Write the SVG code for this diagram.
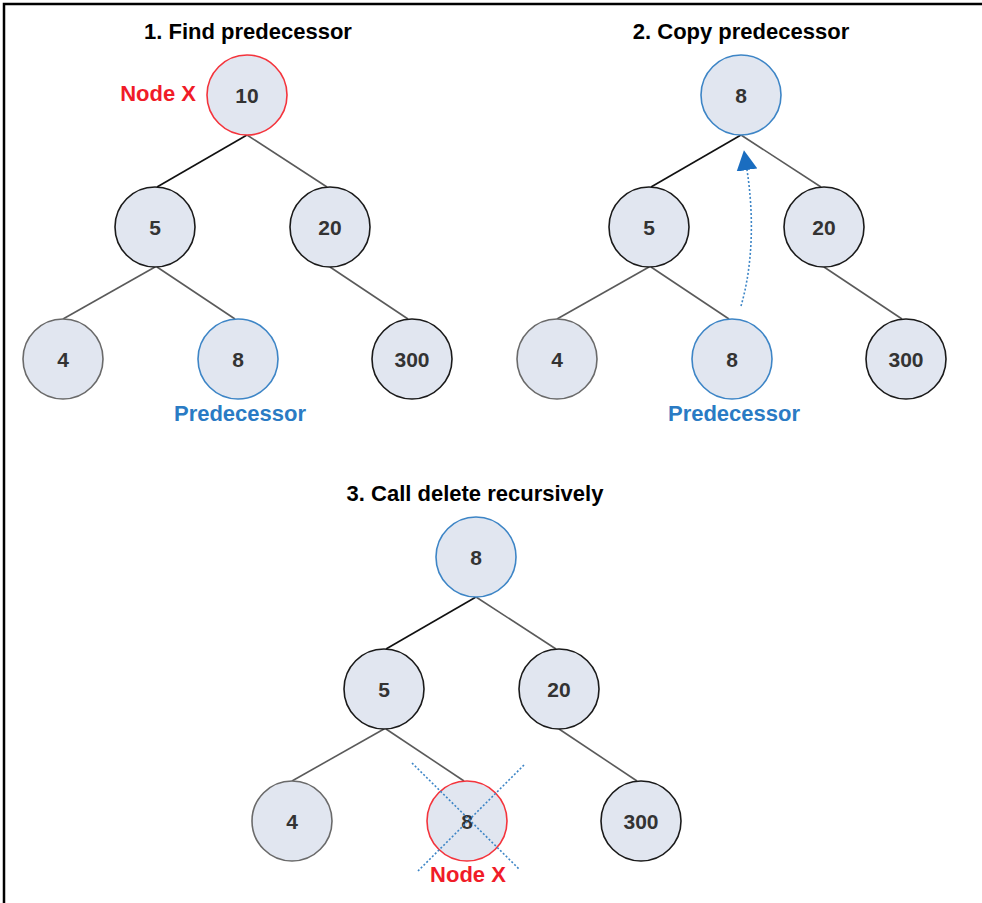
<svg xmlns="http://www.w3.org/2000/svg" width="982" height="903" viewBox="0 0 982 903">
<defs>
<style>
.bg{fill:#ffffff}
.frame{stroke:#000;stroke-width:2.5;fill:none}
.title{font-family:"Liberation Sans",Arial,sans-serif;font-weight:bold;font-size:22px;fill:#000;text-anchor:middle}
.num{font-family:"Liberation Sans",Arial,sans-serif;font-weight:bold;font-size:21px;fill:#333;text-anchor:middle}
.lblred{font-family:"Liberation Sans",Arial,sans-serif;font-weight:bold;font-size:22px;fill:#f01c28}
.lblblue{font-family:"Liberation Sans",Arial,sans-serif;font-weight:bold;font-size:22px;fill:#2a7bc4;text-anchor:middle}
circle{fill:#e1e6f0;stroke-width:1.6}
.k{stroke:#1a1a1a}
.g{stroke:#6a6a6a}
.b{stroke:#3d85c6}
.r{stroke:#f4343c}
.edge{stroke:#5a5a5a;stroke-width:1.6;fill:none}
.edgek{stroke:#111;stroke-width:1.6;fill:none}
.dot{stroke:#3d85c6;stroke-width:1.6;stroke-dasharray:2 2;fill:none}
</style>
<marker id="ah" viewBox="0 0 20 21" markerWidth="20" markerHeight="21" refX="0" refY="10.5" orient="auto" markerUnits="userSpaceOnUse">
<path d="M0,0 L20,10.5 L0,21 Z" fill="#1a6dc0"/>
</marker>
</defs>
<rect class="bg" x="0" y="0" width="982" height="903"/>
<path class="frame" d="M4,903 V4 H982"/>

<text class="title" x="248" y="39">1. Find predecessor</text>
<text class="title" x="741" y="39">2. Copy predecessor</text>
<text class="title" x="475" y="501">3. Call delete recursively</text>

<g id="connectors">
<line class="edgek" x1="247" y1="135" x2="157" y2="187"/>
<line class="edge" x1="247" y1="135" x2="327" y2="187"/>
<line class="edge" x1="155" y1="267" x2="63" y2="319"/>
<line class="edge" x1="157" y1="267" x2="235" y2="319"/>
<line class="edge" x1="330" y1="267" x2="408" y2="319"/>

<line class="edgek" x1="741" y1="135" x2="651" y2="187"/>
<line class="edge" x1="741" y1="135" x2="821" y2="187"/>
<line class="edge" x1="649" y1="267" x2="557" y2="319"/>
<line class="edge" x1="651" y1="267" x2="729" y2="319"/>
<line class="edge" x1="824" y1="267" x2="902" y2="319"/>

<line class="edgek" x1="476" y1="597" x2="386" y2="649"/>
<line class="edge" x1="476" y1="597" x2="556" y2="649"/>
<line class="edge" x1="384" y1="729" x2="292" y2="781"/>
<line class="edge" x1="386" y1="729" x2="464" y2="781"/>
<line class="edge" x1="559" y1="729" x2="637" y2="781"/>

<path class="dot" d="M741,306 C753,265 754,215 747,170" marker-end="url(#ah)"/>
</g>

<g id="p1-n10"><circle class="r" cx="247" cy="95" r="40"/><text class="num" x="247" y="103">10</text></g>
<g id="p1-n5"><circle class="k" cx="155" cy="227" r="40"/><text class="num" x="155" y="235">5</text></g>
<g id="p1-n20"><circle class="k" cx="330" cy="227" r="40"/><text class="num" x="330" y="235">20</text></g>
<g id="p1-n4"><circle class="g" cx="63" cy="359" r="40"/><text class="num" x="63" y="367">4</text></g>
<g id="p1-n8"><circle class="b" cx="238" cy="359" r="40"/><text class="num" x="238" y="367">8</text></g>
<g id="p1-n300"><circle class="k" cx="412" cy="359" r="40"/><text class="num" x="412" y="367">300</text></g>
<text class="lblred" x="196" y="101" text-anchor="end">Node X</text>
<text class="lblblue" x="240" y="421">Predecessor</text>

<g id="p2-n8root"><circle class="b" cx="741" cy="95" r="40"/><text class="num" x="741" y="103">8</text></g>
<g id="p2-n5"><circle class="k" cx="649" cy="227" r="40"/><text class="num" x="649" y="235">5</text></g>
<g id="p2-n20"><circle class="k" cx="824" cy="227" r="40"/><text class="num" x="824" y="235">20</text></g>
<g id="p2-n4"><circle class="g" cx="557" cy="359" r="40"/><text class="num" x="557" y="367">4</text></g>
<g id="p2-n8"><circle class="b" cx="732" cy="359" r="40"/><text class="num" x="732" y="367">8</text></g>
<g id="p2-n300"><circle class="k" cx="906" cy="359" r="40"/><text class="num" x="906" y="367">300</text></g>
<text class="lblblue" x="734" y="421">Predecessor</text>

<g id="p3-n8root"><circle class="b" cx="476" cy="557" r="40"/><text class="num" x="476" y="565">8</text></g>
<g id="p3-n5"><circle class="k" cx="384" cy="689" r="40"/><text class="num" x="384" y="697">5</text></g>
<g id="p3-n20"><circle class="k" cx="559" cy="689" r="40"/><text class="num" x="559" y="697">20</text></g>
<g id="p3-n4"><circle class="g" cx="292" cy="821" r="40"/><text class="num" x="292" y="829">4</text></g>
<g id="p3-n8"><circle class="r" cx="467" cy="821" r="40"/><text class="num" x="467" y="829">8</text>
<line class="dot" x1="412" y1="763" x2="519" y2="869"/>
<line class="dot" x1="524" y1="765" x2="418" y2="871"/>
</g>
<g id="p3-n300"><circle class="k" cx="641" cy="821" r="40"/><text class="num" x="641" y="829">300</text></g>
<text class="lblred" x="468" y="882" text-anchor="middle">Node X</text>
</svg>
